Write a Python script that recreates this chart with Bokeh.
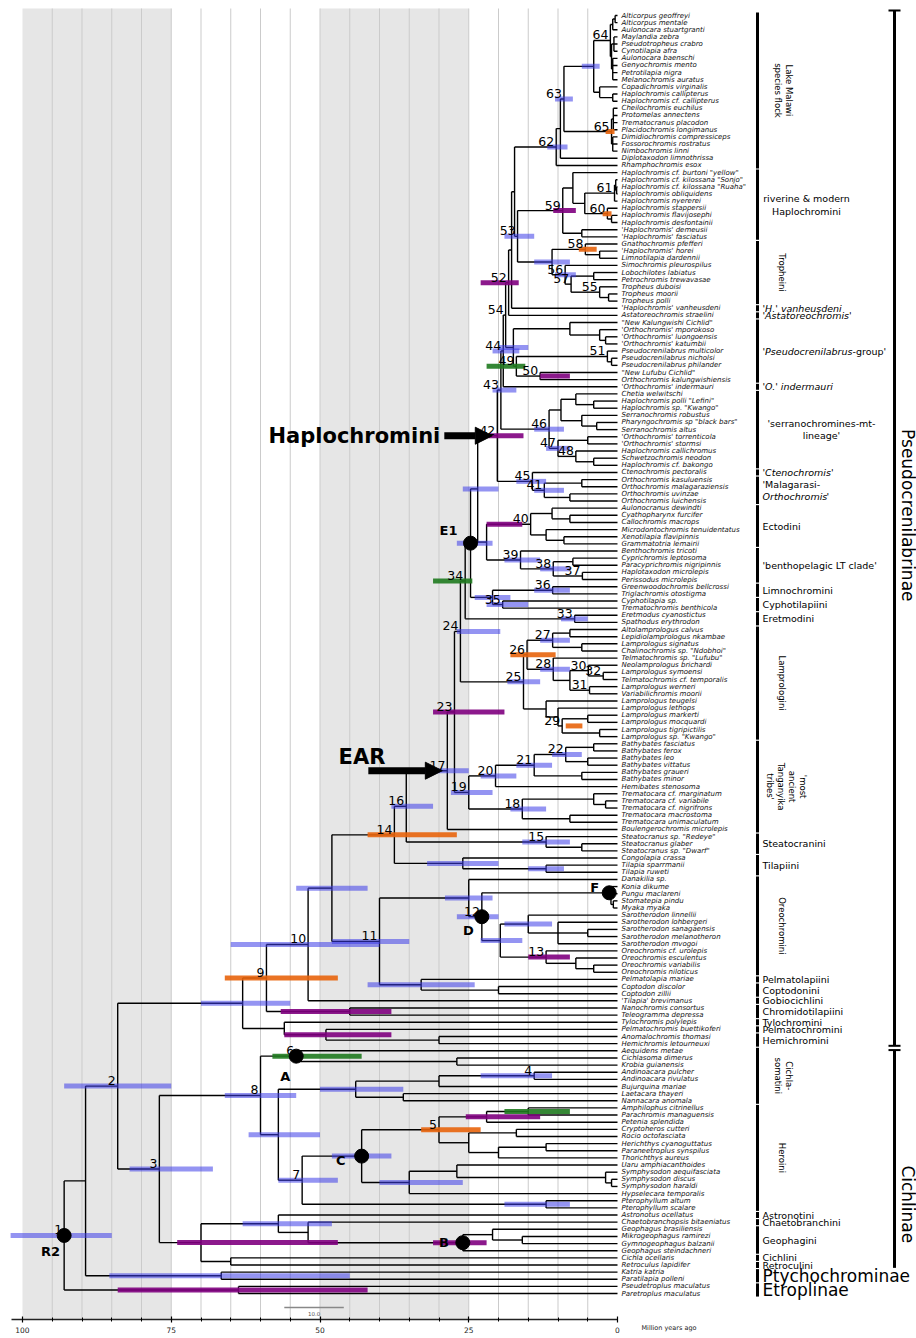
import math
from bokeh.plotting import figure
from bokeh.models import Range1d, FixedTicker, Arrow, NormalHead
from bokeh.core.properties import value
from bokeh.embed import file_html
from bokeh.resources import INLINE

tips = [
 "Alticorpus geoffreyi", "Alticorpus mentale", "Aulonocara stuartgranti", "Maylandia zebra",
 "Pseudotropheus crabro", "Cynotilapia afra", "Aulonocara baenschi", "Genyochromis mento",
 "Petrotilapia nigra", "Melanochromis auratus", "Copadichromis virginalis", "Haplochromis callipterus",
 "Haplochromis cf. callipterus", "Cheilochromis euchilus", "Protomelas annectens", "Trematocranus placodon",
 "Placidochromis longimanus", "Dimidiochromis compressiceps", "Fossorochromis rostratus", "Nimbochromis linni",
 "Diplotaxodon limnothrissa", "Rhamphochromis esox", 'Haplochromis cf. burtoni "yellow"',
 'Haplochromis cf. kilossana "Sonjo"', 'Haplochromis cf. kilossana "Ruaha"', "Haplochromis obliquidens",
 "Haplochromis nyererei", "Haplochromis stappersii", "Haplochromis flavijosephi", "Haplochromis desfontainii",
 "'Haplochromis' demeusii", "'Haplochromis' fasciatus", "Gnathochromis pfefferi", "'Haplochromis' horei",
 "Limnotilapia dardennii", "Simochromis pleurospilus", "Lobochilotes labiatus", "Petrochromis trewavasae",
 "Tropheus duboisi", "Tropheus moorii", "Tropheus polli", "'Haplochromis' vanheusdeni",
 "Astatoreochromis straelini", '"New Kalungwishi Cichlid"', "'Orthochromis' mporokoso",
 "'Orthochromis' luongoensis", "'Orthochromis' katumbii", "Pseudocrenilabrus multicolor",
 "Pseudocrenilabrus nicholsi", "Pseudocrenilabrus philander", '"New Lufubu Cichlid"',
 "Orthochromis kalungwishiensis", "'Orthochromis' indermauri", "Chetia welwitschi",
 'Haplochromis polli "Lefini"', 'Haplochromis sp. "Kwango"', "Serranochromis robustus",
 'Pharyngochromis sp "black bars"', "Serranochromis altus", "'Orthochromis' torrenticola",
 "'Orthochromis' stormsi", "Haplochromis callichromus", "Schwetzochromis neodon", "Haplochromis cf. bakongo",
 "Ctenochromis pectoralis", "Orthochromis kasuluensis", "Orthochromis malagaraziensis", "Orthochromis uvinzae",
 "Orthochromis luichensis", "Aulonocranus dewindti", "Cyathopharynx furcifer", "Callochromis macrops",
 "Microdontochromis tenuidentatus", "Xenotilapia flavipinnis", "Grammatotria lemairii", "Benthochromis tricoti",
 "Cyprichromis leptosoma", "Paracyprichromis nigripinnis", "Haplotaxodon microlepis", "Perissodus microlepis",
 "Greenwoodochromis bellcrossi", "Triglachromis otostigma", "Cyphotilapia sp.", "Trematochromis benthicola",
 "Eretmodus cyanostictus", "Spathodus erythrodon", "Altolamprologus calvus", "Lepidiolamprologus nkambae",
 "Lamprologus signatus", 'Chalinochromis sp. "Ndobhoi"', 'Telmatochromis sp. "Lufubu"',
 "Neolamprologus brichardi", "Lamprologus symoensi", "Telmatochromis cf. temporalis", "Lamprologus werneri",
 "Variabilichromis moorii", "Lamprologus teugelsi", "Lamprologus lethops", "Lamprologus markerti",
 "Lamprologus mocquardi", "Lamprologus tigripictilis", 'Lamprologus sp. "Kwango"', "Bathybates fasciatus",
 "Bathybates ferox", "Bathybates leo", "Bathybates vittatus", "Bathybates graueri", "Bathybates minor",
 "Hemibates stenosoma", "Trematocara cf. marginatum", "Trematocara cf. variabile", "Trematocara cf. nigrifrons",
 "Trematocara macrostoma", "Trematocara unimaculatum", "Boulengerochromis microlepis",
 'Steatocranus sp. "Redeye"', "Steatocranus glaber", 'Steatocranus sp. "Dwarf"', "Congolapia crassa",
 "Tilapia sparrmanii", "Tilapia ruweti", "Danakilia sp.", "Konia dikume", "Pungu maclareni",
 "Stomatepia pindu", "Myaka myaka", "Sarotherodon linnellii", "Sarotherodon lohbergeri",
 "Sarotherodon sanagaensis", "Sarotherodon melanotheron", "Sarotherodon mvogoi", "Oreochromis cf. urolepis",
 "Oreochromis esculentus", "Oreochromis variabilis", "Oreochromis niloticus", "Pelmatolapia mariae",
 "Coptodon discolor", "Coptodon zillii", "'Tilapia' brevimanus", "Nanochromis consortus",
 "Teleogramma depressa", "Tylochromis polylepis", "Pelmatochromis buettikoferi", "Anomalochromis thomasi",
 "Hemichromis letourneuxi", "Aequidens metae", "Cichlasoma dimerus", "Krobia guianensis",
 "Andinoacara pulcher", "Andinoacara rivulatus", "Bujurquina mariae", "Laetacara thayeri",
 "Nannacara anomala", "Amphilophus citrinellus", "Parachromis managuensis", "Petenia splendida",
 "Cryptoheros cutteri", "Rocio octofasciata", "Herichthys cyanoguttatus", "Paraneetroplus synspilus",
 "Thorichthys aureus", "Uaru amphiacanthoides", "Symphysodon aequifasciata", "Symphysodon discus",
 "Symphysodon haraldi", "Hypselecara temporalis", "Pterophyllum altum", "Pterophyllum scalare",
 "Astronotus ocellatus", "Chaetobranchopsis bitaeniatus", "Geophagus brasiliensis", "Mikrogeophagus ramirezi",
 "Gymnogeophagus balzanii", "Geophagus steindachneri", "Cichla ocellaris", "Retroculus lapidifer",
 "Katria katria", "Paratilapia polleni", "Pseudetroplus maculatus", "Paretroplus maculatus",
]

# internal nodes: (first tip, last tip) 1-based, and age in Ma
nodes = [
 # root and outgroups
 (1,180,93.0),(179,180,63.7),(1,178,89.4),(177,178,66.6),(1,176,84.0),
 # Cichlinae
 (146,176,77.0),(146,168,60.0),(169,176,70.0),(175,176,65.0),
 (146,148,54.0),(147,148,27.0),(149,168,57.0),(149,153,44.0),(149,151,30.0),(149,150,14.0),(152,153,36.0),
 (154,168,53.0),(154,166,43.0),(154,161,30.0),(154,156,22.0),(154,155,15.0),(157,161,25.0),(157,158,17.0),
 (159,161,20.0),(159,160,12.0),(162,166,35.0),(162,165,27.0),(163,165,2.0),(164,165,1.0),(167,168,12.0),
 (169,174,57.0),(170,174,52.0),(171,174,26.0),(171,173,21.0),(172,173,16.0),
 # Pseudocrenilabrinae, deep nodes
 (1,145,63.0),(142,145,56.0),(143,145,49.0),(144,145,30.0),
 (1,141,59.0),(140,141,45.0),(1,139,52.0),(1,138,48.0),
 (122,138,40.0),(136,138,33.0),(137,138,20.0),
 # Oreochromini
 (122,135,25.0),(123,135,22.8),(123,126,1.4),(124,126,1.1),(125,126,0.7),
 (127,135,19.7),(127,131,15.0),(128,131,10.0),(129,130,5.0),(132,135,12.0),(133,135,7.0),(134,135,4.0),
 # Tilapiini, Steatocranini and the EAR
 (1,121,37.5),(119,121,26.0),(120,121,12.0),(1,118,35.5),(116,118,12.0),(117,118,6.0),
 (1,115,28.6),(1,114,27.4),(103,114,25.0),(103,109,20.5),(103,108,14.0),(103,106,8.7),(103,104,4.0),
 (105,106,5.0),(107,108,6.0),(110,114,16.0),(110,112,4.0),(111,112,2.0),(113,114,8.0),
 # Lamprologini
 (1,102,26.4),(87,102,15.8),(87,96,15.2),(87,90,10.9),(87,88,8.0),(89,90,6.0),(91,96,10.8),(92,96,8.0),
 (92,94,4.9),(93,94,2.4),(95,96,4.7),(97,102,12.0),(98,102,10.0),(99,102,9.3),(99,100,5.0),(101,102,3.0),
 # H-lineage
 (1,86,25.6),(85,86,7.2),(1,84,24.7),(81,84,21.0),(81,82,10.9),(83,84,19.3),(1,80,23.5),(70,80,22.0),
 (70,75,14.6),(70,72,11.0),(71,72,8.0),(73,75,12.0),(74,75,9.0),
 (76,80,16.3),(77,80,10.8),(77,78,7.5),(79,80,5.9),
 # Haplochromini
 (1,69,20.2),(65,69,14.3),(66,69,12.3),(66,67,6.0),(68,69,8.0),
 (1,64,19.6),(54,64,11.5),(54,59,9.5),(54,56,7.0),(55,56,4.0),(57,59,6.0),(58,59,3.5),
 (60,64,10.0),(60,61,5.0),(62,64,7.0),(63,64,4.0),
 (1,53,19.2),(1,52,18.8),(44,52,17.5),(44,47,8.0),(45,47,3.0),(46,47,2.0),
 (48,52,17.0),(48,50,1.7),(49,50,1.0),(51,52,13.0),
 (1,43,18.3),(1,42,17.8),(1,41,17.3),(23,41,16.8),
 (33,41,11.0),(33,35,5.4),(34,35,3.0),(36,41,8.8),(37,41,7.8),(37,38,4.0),(39,41,3.0),(40,41,1.5),
 (23,32,9.2),(23,30,7.5),(24,30,5.5),(24,27,0.5),(24,26,0.3),(25,26,0.15),(28,30,1.7),(29,30,1.0),(31,32,6.0),
 (1,22,10.3),(1,21,9.6),(1,20,9.0),(1,13,4.0),(1,10,1.2),(1,3,0.8),(1,2,0.4),(4,10,1.0),(4,6,0.6),
 (7,10,0.8),(11,13,3.0),(12,13,0.8),(14,20,1.0),(14,17,0.7),(18,20,0.8),
]

# 95% HPD bars: node (first, last), lower age, upper age, colour key
hpd = [
 (1,180,85.0,102.0,"b"),(1,176,75.0,93.0,"b"),(146,176,68.0,82.0,"b"),(179,180,42.0,84.0,"p"),
 (177,178,45.0,85.4,"b"),(146,168,54.0,66.0,"b"),(146,148,43.0,58.0,"g"),(149,150,11.0,23.0,"b"),
 (149,168,50.0,62.0,"b"),(149,153,36.0,50.0,"b"),(154,168,47.0,57.0,"b"),(154,166,38.0,48.0,"b"),
 (154,161,23.0,33.0,"o"),
 (154,156,13.0,25.5,"p"),(154,155,8.0,19.0,"g"),(162,166,26.0,40.0,"b"),(167,168,8.0,19.0,"b"),
 (171,174,22.0,31.0,"p"),(169,176,47.0,74.0,"p"),(169,174,48.0,63.0,"b"),
 (1,145,55.0,70.0,"b"),(1,141,47.0,66.0,"o"),(140,141,38.0,56.6,"p"),(1,139,40.0,65.0,"b"),
 (122,138,35.0,48.0,"b"),(143,145,38.0,56.0,"p"),(136,138,24.0,42.0,"b"),(1,138,42.0,54.0,"b"),
 (122,135,21.0,29.0,"b"),(123,135,20.0,27.0,"b"),(127,135,16.0,23.0,"b"),(132,135,8.0,15.0,"p"),
 (127,131,11.0,19.0,"b"),
 (1,121,27.0,42.0,"o"),(1,118,31.0,38.0,"b"),(119,121,20.0,32.0,"b"),(120,121,9.0,15.0,"b"),
 (116,118,8.0,16.0,"b"),(1,115,25.0,33.0,"b"),(1,114,19.0,31.0,"p"),(103,114,21.0,28.0,"b"),
 (103,109,17.0,23.0,"b"),(103,108,11.0,17.0,"b"),(110,114,12.0,18.0,"b"),(103,106,6.0,11.0,"b"),
 (1,102,19.7,27.0,"b"),(87,102,13.0,18.5,"b"),(87,96,10.4,18.0,"o"),(99,102,5.9,8.7,"o"),
 (91,96,8.0,13.0,"b"),(87,90,8.0,13.0,"b"),
 (1,86,24.4,31.0,"g"),(85,86,5.0,9.5,"b"),(1,84,21.0,27.0,"b"),(81,84,18.0,24.0,"b"),
 (83,84,15.0,22.0,"b"),(81,82,8.0,14.0,"b"),(1,80,20.0,26.0,"b"),(70,75,16.0,22.0,"p"),
 (76,80,13.0,19.0,"b"),(77,80,8.0,13.0,"b"),
 (1,69,15.8,21.7,"p"),(65,69,12.0,17.0,"b"),(66,69,9.0,14.0,"b"),(1,64,17.0,21.0,"b"),
 (54,64,9.0,14.0,"b"),(60,64,8.0,12.0,"b"),(1,53,16.5,21.0,"b"),(1,43,16.6,23.0,"p"),
 (48,52,15.5,22.0,"g"),(51,52,8.0,13.0,"p"),(44,52,15.0,20.0,"b"),(23,41,14.0,19.0,"b"),
 (33,41,8.0,14.0,"b"),(36,41,7.0,10.5,"b"),(1,22,8.4,11.8,"b"),(23,32,7.0,10.8,"p"),
 (1,20,7.5,10.5,"b"),(1,13,3.0,6.0,"b"),(14,20,0.5,2.0,"o"),(28,30,1.0,2.5,"o"),(33,35,3.5,6.5,"o"),
]

node_numbers = [
 (1,180,"1"),(1,176,"2"),(146,176,"3"),(149,150,"4"),(154,161,"5"),(146,148,"6"),(154,168,"7"),
 (146,168,"8"),(1,141,"9"),(1,139,"10"),(122,138,"11"),(123,135,"12"),(132,135,"13"),(1,121,"14"),
 (116,118,"15"),(1,118,"16"),(1,115,"17"),(110,114,"18"),(103,114,"19"),(103,109,"20"),(103,108,"21"),
 (103,106,"22"),(1,114,"23"),(1,102,"24"),(87,102,"25"),(87,96,"26"),(87,90,"27"),(91,96,"28"),
 (99,102,"29"),(92,94,"30"),(95,96,"31"),(93,94,"32"),(85,86,"33"),(1,86,"34"),(83,84,"35"),
 (81,82,"36"),(79,80,"37"),(77,80,"38"),(76,80,"39"),(70,75,"40"),(66,69,"41"),(1,69,"42"),
 (1,64,"43"),(1,53,"44"),(65,69,"45"),(54,64,"46"),(60,64,"47"),(62,64,"48"),(48,52,"49"),
 (51,52,"50"),(48,50,"51"),(1,43,"52"),(23,41,"53"),(1,52,"54"),(39,41,"55"),(36,41,"56"),
 (37,41,"57"),(33,35,"58"),(23,32,"59"),(28,30,"60"),(24,27,"61"),(1,22,"62"),(1,20,"63"),
 (1,10,"64"),(14,20,"65"),
]

# calibration points: node, letter, label offset (px)
calib_first = [1, 146, 171, 154, 123, 1, 123]
calib_last = [180, 148, 174, 166, 135, 84, 126]
calib_text = ["R2", "A", "B", "C", "D", "E1", "F"]
calib_dx = [-4, -6, -14, -16, -8, -13, -10]
calib_dy = [16, 20, 0, 4, 14, -13, -5]

# clade bars: first, last, text, kind
clade_first = [1,23,33,42,43,44,53,54,65,66,70,76,81,83,85,87,103,116,119,122,136,137,139,140,142,143,144,146,154,169,170,171,175,176]
clade_last = [22,32,41,42,43,52,53,64,65,69,75,80,82,84,86,102,115,118,121,135,136,138,139,141,142,143,145,153,168,169,170,174,175,176]
clade_text = ["Lake Malawi\nspecies flock", "riverine & modern\nHaplochromini", "Tropheini", "'H.' vanheusdeni",
 "'Astatoreochromis'", "'Pseudocrenilabrus", " 'O.' indermauri", "'serranochromines-mt-\nlineage'", "'Ctenochromis'",
 "'Malagarasi-", "Ectodini", "'benthopelagic LT clade'", "Limnochromini", "Cyphotilapiini", "Eretmodini",
 "Lamprologini", "'most\nancient\nTanganyika\ntribes'", "Steatocranini", "Tilapiini", "Oreochromini",
 "Pelmatolapiini", "Coptodonini", "Gobiocichlini", "Chromidotilapiini", "Tylochromini", "Pelmatochromini",
 "Hemichromini", "Cichla-\nsomatini", "Heroini", "Astronotini", "Chaetobranchini", "Geophagini", "Cichlini",
 "Retroculini"]
clade_kind = ["rot","center","rot","italic","italic","italic","italic","center","italic","left","left","left",
 "left","left","left","rot","rot","left","left","rot","left","left","left","left","left","left","left","rot",
 "rot","left","left","left","left","left"]
subfam_first = [177, 179]
subfam_last = [178, 180]
subfam_text = ["Ptychochrominae", "Etroplinae"]

axis_ticks = [0, 25, 50, 75, 100]
axis_minor = list(range(0, 105, 5))
band_left = [100, 50]
band_right = [75, 25]
grid_ages = list(range(5, 100, 5))

# ---------------- geometry (page pixels -> data) ----------------
W, H = 916, 1338
PX_MA = 5.95            # pixels per million years
X0 = 617                # page x of 0 Ma
PX_TIP = 7.14           # pixels between tips
Y0 = 15                 # page y of first tip
x_left = X0 / PX_MA
x_right = x_left - W / PX_MA
y_top = -Y0 / PX_TIP
y_bottom = (H - Y0) / PX_TIP
def px_x(n): return n / PX_MA
def px_y(n): return n / PX_TIP
def page_y(py): return (py - Y0) / PX_TIP

node_age = {(a, b): t for a, b, t in nodes}
spans = sorted(node_age.keys(), key=lambda s: s[1] - s[0], reverse=True)

def children(span):
    a, b = span
    out = []
    i = a
    while i <= b:
        best = None
        for (s, e) in node_age:
            if s == i and e <= b and (s, e) != span:
                if best is None or e > best[1]:
                    best = (s, e)
        if best:
            out.append(best); i = best[1] + 1
        else:
            out.append(i); i += 1
    return out

ycache = {}
def ypos(c):
    if isinstance(c, int):
        return c - 1
    if c in ycache:
        return ycache[c]
    ch = children(c)
    y = (ypos(ch[0]) + ypos(ch[-1])) / 2
    ycache[c] = y
    return y

def xage(c):
    return 0.0 if isinstance(c, int) else node_age[c]

hx0, hx1, hy = [], [], []
vx, vy0, vy1 = [], [], []
for span in spans:
    ch = children(span)
    t = node_age[span]
    vx.append(t); vy0.append(ypos(ch[0])); vy1.append(ypos(ch[-1]))
    for c in ch:
        hx0.append(xage(c)); hx1.append(t); hy.append(ypos(c))

p = figure(frame_width=W, frame_height=H, x_range=Range1d(x_left, x_right),
           y_range=Range1d(y_bottom, y_top), output_backend="svg", toolbar_location=None,
           y_axis_location=None, min_border_left=0, min_border_right=0, min_border_top=0,
           min_border_bottom=0, background_fill_color="white", border_fill_color="white")
p.outline_line_color = None
p.ygrid.visible = False
p.xgrid.visible = False

band_top = page_y(8)
axis_y = page_y(1319)
bands = p.quad(left=band_left, right=band_right, top=band_top, bottom=axis_y,
               fill_color="#e6e6e6", line_color=None)
p.segment(x0=grid_ages, x1=grid_ages, y0=[band_top] * len(grid_ages), y1=[axis_y] * len(grid_ages),
          line_color="#cbcbcb", line_width=1)

ax = p.xaxis[0]
ax.fixed_location = axis_y
ax.ticker = FixedTicker(ticks=axis_ticks, minor_ticks=axis_minor)
ax.bounds = (0, 101.8)
ax.axis_line_width = 1.6
ax.axis_line_color = "#222222"
ax.major_tick_in = 3
ax.major_tick_out = 3
ax.minor_tick_in = 2
ax.minor_tick_out = 2
ax.major_tick_line_width = 1.2
ax.major_label_standoff = 4
ax.major_label_text_font = "DejaVu Sans"
ax.major_label_text_font_size = "7.5px"
ax.major_label_text_color = "#222222"

# tree lines
p.segment(x0=hx0, y0=hy, x1=hx1, y1=hy, line_color="black", line_width=1.4)
p.segment(x0=vx, y0=vy0, x1=vx, y1=vy1, line_color="black", line_width=1.4)

# HPD bars
cols = {"b": ("#3c3ce8", 0.55), "p": ("#800080", 0.9), "o": ("#e8640c", 0.9), "g": ("#1f7a1f", 0.9)}
for key in cols:
    sel = [h for h in hpd if h[4] == key]
    if not sel:
        continue
    p.hbar(y=[ypos((h[0], h[1])) for h in sel], left=[h[2] for h in sel], right=[h[3] for h in sel],
           height=px_y(5), fill_color=cols[key][0], fill_alpha=cols[key][1], line_color=None)

# calibration circles
cx = [node_age[(a, b)] for a, b in zip(calib_first, calib_last)]
cy = [ypos((a, b)) for a, b in zip(calib_first, calib_last)]
p.scatter(x=cx, y=cy, size=14, fill_color="black", line_color="black")
for x, y, t, dx, dy in zip(cx, cy, calib_text, calib_dx, calib_dy):
    p.text(x=[x], y=[y], text=[t], x_offset=dx, y_offset=dy, text_align="right", text_baseline="middle",
           text_font=value("DejaVu Sans"), text_font_style="bold", text_font_size="13px", text_color="black")

# node numbers
p.text(x=[node_age[(a, b)] for a, b, _ in node_numbers], y=[ypos((a, b)) for a, b, _ in node_numbers],
       text=[t for _, _, t in node_numbers], x_offset=-2, y_offset=-1, text_align="right",
       text_baseline="bottom", text_font=value("DejaVu Sans"), text_font_size="12.5px", text_color="black")

# tip labels
p.text(x=[0] * len(tips), y=list(range(len(tips))), text=tips, x_offset=4, text_baseline="middle",
       text_font=value("DejaVu Sans"), text_font_style="italic", text_font_size="7px", text_color="#111111")

# clade bars and labels
bar_x = -px_x(757 - X0)
lab_x = -px_x(762 - X0)
rot_x = -px_x(781 - X0)
p.segment(x0=[bar_x] * len(clade_first), x1=[bar_x] * len(clade_first),
          y0=[a - 1 - 0.42 for a in clade_first], y1=[b - 1 + 0.42 for b in clade_last],
          line_color="black", line_width=3)
p.segment(x0=[bar_x] * 2, x1=[bar_x] * 2, y0=[a - 1 - 0.42 for a in subfam_first],
          y1=[b - 1 + 0.42 for b in subfam_last], line_color="black", line_width=3)
common = dict(text_font=value("DejaVu Sans"), text_color="black")
for a, b, t, k in zip(clade_first, clade_last, clade_text, clade_kind):
    ym = (a + b) / 2 - 1
    if k == "rot":
        nl = t.count("\n") + 1
        p.text(x=[rot_x - px_x(1.5 * (nl - 1))], y=[ym], text=[t], angle=-math.pi / 2, text_align="center",
               text_baseline="middle", text_font_size="8.5px", text_line_height=1.1, **common)
    elif k == "center":
        half = 44 if t.startswith("riverine") else 59
        p.text(x=[lab_x - px_x(half)], y=[ym], text=[t], text_align="center", text_baseline="middle",
               text_font_size="9.5px", text_line_height=1.15, **common)
    elif k == "italic":
        p.text(x=[lab_x], y=[ym], text=[t], text_align="left", text_baseline="middle",
               text_font_size="9.5px", text_font_style="italic", **common)
        if t.startswith("'Pseudo"):
            p.text(x=[lab_x], y=[ym], text=["-group'"], x_offset=90, text_align="left",
                   text_baseline="middle", text_font_size="9.5px", **common)
    else:
        if t.startswith("'Malagarasi"):
            p.text(x=[lab_x], y=[ym], text=[t], y_offset=-6, text_align="left", text_baseline="middle",
                   text_font_size="9.5px", **common)
            p.text(x=[lab_x], y=[ym], text=["Orthochromis"], y_offset=6, text_align="left",
                   text_baseline="middle", text_font_size="9.5px", text_font_style="italic", **common)
            p.text(x=[lab_x], y=[ym], text=["'"], x_offset=64, y_offset=6, text_align="left",
                   text_baseline="middle", text_font_size="9.5px", **common)
        else:
            p.text(x=[lab_x], y=[ym], text=[t], text_align="left", text_baseline="middle",
                   text_font_size="9.5px", **common)
p.text(x=[lab_x] * 2, y=[(a + b) / 2 - 1 for a, b in zip(subfam_first, subfam_last)], text=subfam_text,
       text_align="left", text_baseline="middle", text_font_size="17px", **common)

# subfamily bars
big_x = -px_x(894 - X0)
big_lab = -px_x(907 - X0)
pseudo = (1, 145)
cich = (146, 176)
p_top, p_bot = pseudo[0] - 1 - 0.7, pseudo[1] - 1 + 0.3
c_top, c_bot = cich[0] - 1 - 0.1, cich[1] - 1 + 0.4
p.segment(x0=[big_x, big_x], x1=[big_x, big_x], y0=[p_top, c_top], y1=[p_bot, c_bot],
          line_color="black", line_width=3)
p.segment(x0=[big_x + px_x(6)] * 3, x1=[big_x - px_x(6)] * 3, y0=[p_top, p_bot, c_top],
          y1=[p_top, p_bot, c_top], line_color="black", line_width=2)
p.text(x=[big_lab, big_lab], y=[(pseudo[0] + pseudo[1]) / 2 - 1 - 2, 166.5],
       text=["Pseudocrenilabrinae", "Cichlinae"], angle=-math.pi / 2, text_align="center",
       text_baseline="middle", text_font_size="17px", **common)

# arrows: Haplochromini -> its crown node (text left of arrow), EAR -> its crown node (text above)
arrow_span = [(1, 69), (1, 115)]
arrow_text = ["Haplochromini", "EAR"]
arrow_len = [48, 74]
arrow_tx = [-4, 17]
arrow_ty = [0, -14]
for span, txt, length, tx, ty in zip(arrow_span, arrow_text, arrow_len, arrow_tx, arrow_ty):
    xe = node_age[span] + px_x(5)
    xs = xe + px_x(length)
    yy = ypos(span)
    p.add_layout(Arrow(end=NormalHead(size=17, fill_color="black", line_color="black"), x_start=xs, y_start=yy,
                       x_end=xe, y_end=yy, line_width=7, line_color="black"))
    p.text(x=[xs], y=[yy], text=[txt], x_offset=tx, y_offset=ty, text_align="right", text_baseline="middle",
           text_font=value("DejaVu Sans"), text_font_style="bold", text_font_size="21px", text_color="black")

# scale bar
sb_y = page_y(1307)
p.segment(x0=[56.0], x1=[46.0], y0=[sb_y], y1=[sb_y], line_color="#888888", line_width=1.5)
p.text(x=[51.0], y=[sb_y], text=["10.0"], y_offset=6, text_align="center", text_baseline="middle",
       text_font=value("DejaVu Sans"), text_font_size="5.5px", text_color="#555555")

p.text(x=[-px_x(641 - X0)], y=[page_y(1327)], text=["Million years ago"], text_align="left",
       text_baseline="middle", text_font=value("DejaVu Sans"), text_font_size="6.5px", text_color="#222222")

open("out.html", "w").write(file_html(p, INLINE))
